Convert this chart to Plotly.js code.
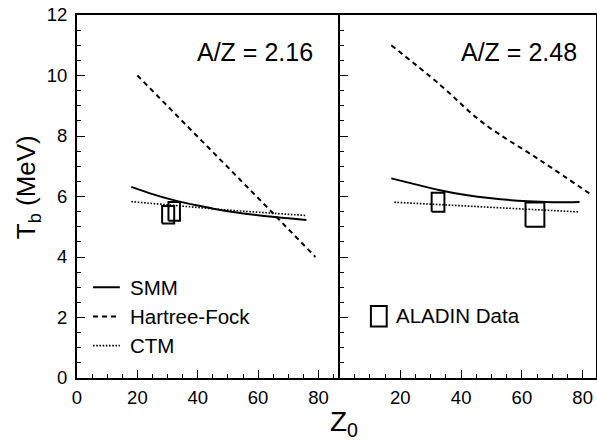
<!DOCTYPE html>
<html><head><meta charset="utf-8">
<script src="https://cdn.plot.ly/plotly-3.0.1.min.js"></script>
<style>html,body{margin:0;padding:0;background:#fff}</style>
</head><body><div id="plot" style="width:597px;height:445px"></div>
<script>
// Left panel: A/Z = 2.16
const smmL_Z = [18, 25, 32, 40, 50, 60, 70, 76];
const smmL_T = [6.32, 6.08, 5.88, 5.70, 5.51, 5.38, 5.28, 5.22];
const hfL_Z = [20, 40, 60, 79];
const hfL_T = [10.0, 7.98, 5.95, 4.0];
const ctmL_Z = [18, 50, 76];
const ctmL_T = [5.83, 5.55, 5.37];
const dataL_Z = [30.2, 32.2];
const dataL_T = [5.40, 5.51];
const dataL_dZ = [2.0, 1.9];
const dataL_dT = [0.29, 0.31];

// Right panel: A/Z = 2.48
const smmR_Z = [17, 25, 33, 41, 50, 62, 70, 79];
const smmR_T = [6.60, 6.40, 6.21, 6.06, 5.94, 5.84, 5.81, 5.82];
const hfR_Z = [17, 33, 47, 66, 83];
const hfR_T = [11.0, 9.7, 8.45, 7.2, 6.05];
const ctmR_Z = [18, 48, 79];
const ctmR_T = [5.81, 5.65, 5.49];
const dataR_Z = [32.4, 64.3];
const dataR_T = [5.81, 5.40];
const dataR_dZ = [2.1, 3.1];
const dataR_dT = [0.31, 0.40];

const panelLabels = ["A/Z = 2.16", "A/Z = 2.48"];
const legendNames = ["SMM", "Hartree-Fock", "CTM", "ALADIN Data"];
const xTicks = [0, 20, 40, 60, 80];
const xTicksR = [20, 40, 60, 80];

const FONT = "Liberation Sans, Arial, Helvetica, sans-serif";
const lineSolid = {color: "#000", width: 2};
const lineDash = {color: "#000", width: 2, dash: "5px,4px"};
const lineDot = {color: "#000", width: 1.6, dash: "1.6px,1.6px"};

function boxes(z, t, dz, dt) {
  const xs = [], ys = [];
  for (let i = 0; i < z.length; i++) {
    xs.push(z[i]-dz[i], z[i]+dz[i], z[i]+dz[i], z[i]-dz[i], z[i]-dz[i], null);
    ys.push(t[i]-dt[i], t[i]-dt[i], t[i]+dt[i], t[i]+dt[i], t[i]-dt[i], null);
  }
  return {x: xs, y: ys};
}
const bL = boxes(dataL_Z, dataL_T, dataL_dZ, dataL_dT);
const bR = boxes(dataR_Z, dataR_T, dataR_dZ, dataR_dT);

const traces = [
  {x: ctmL_Z, y: ctmL_T, mode: "lines", line: lineDot, xaxis: "x", yaxis: "y"},
  {x: hfL_Z, y: hfL_T, mode: "lines", line: lineDash, xaxis: "x", yaxis: "y"},
  {x: smmL_Z, y: smmL_T, mode: "lines", line: Object.assign({shape: "spline"}, lineSolid), xaxis: "x", yaxis: "y"},
  {x: bL.x, y: bL.y, mode: "lines", line: {color: "#000", width: 2}, xaxis: "x", yaxis: "y"},
  {x: ctmR_Z, y: ctmR_T, mode: "lines", line: lineDot, xaxis: "x2", yaxis: "y2"},
  {x: hfR_Z, y: hfR_T, mode: "lines", line: Object.assign({shape: "spline"}, lineDash), xaxis: "x2", yaxis: "y2"},
  {x: smmR_Z, y: smmR_T, mode: "lines", line: Object.assign({shape: "spline"}, lineSolid), xaxis: "x2", yaxis: "y2"},
  {x: bR.x, y: bR.y, mode: "lines", line: {color: "#000", width: 2}, xaxis: "x2", yaxis: "y2"}
];

const xCommon = {
  showline: true, linecolor: "#000", linewidth: 2, mirror: true,
  ticks: "inside", ticklen: 8, tickwidth: 1, tickcolor: "#000",
  minor: {dtick: 5, ticks: "inside", ticklen: 4, tickwidth: 1, tickcolor: "#000"},
  showgrid: false, zeroline: false, ticklabelstandoff: 2,
  tickfont: {family: FONT, size: 18.5, color: "#000"}
};
const yCommon = {
  range: [0, 12], showline: true, linecolor: "#000", linewidth: 2,
  ticks: "inside", ticklen: 8, tickwidth: 1, tickcolor: "#000", dtick: 2,
  minor: {dtick: 0.5, ticks: "inside", ticklen: 4, tickwidth: 1, tickcolor: "#000"},
  showgrid: false, zeroline: false, ticklabelstandoff: 4,
  tickfont: {family: FONT, size: 18.5, color: "#000"}
};
const split = 0.506;

const legY = [3.0, 2.03, 1.07];
const legStyles = [lineSolid, lineDash, lineDot];
const shapes = [];
const annotations = [];
for (let i = 0; i < 3; i++) {
  shapes.push({type: "line", xref: "x", yref: "y", x0: 5.3, x1: 14.2, y0: legY[i], y1: legY[i], line: legStyles[i]});
  annotations.push({xref: "x", yref: "y", x: 17.0, y: legY[i], text: legendNames[i], showarrow: false,
    xanchor: "left", yanchor: "middle", font: {family: FONT, size: 20.5, color: "#000"}});
}
shapes.push({type: "rect", xref: "x2", yref: "y2", x0: 10.3, x1: 15.5, y0: 1.70, y1: 2.38, line: {color: "#000", width: 2}});
annotations.push({xref: "x2", yref: "y2", x: 18.0, y: 2.05, text: legendNames[3], showarrow: false,
  xanchor: "left", yanchor: "middle", font: {family: FONT, size: 20.5, color: "#000"}});
annotations.push({xref: "x", yref: "y", x: 59, y: 10.78, text: panelLabels[0], showarrow: false,
  xanchor: "center", yanchor: "middle", font: {family: FONT, size: 25, color: "#000"}});
annotations.push({xref: "x2", yref: "y2", x: 59, y: 10.78, text: panelLabels[1], showarrow: false,
  xanchor: "center", yanchor: "middle", font: {family: FONT, size: 25, color: "#000"}});
annotations.push({xref: "paper", yref: "paper", x: 0.514, y: -0.125, text: "Z<sub>0</sub>", showarrow: false,
  xanchor: "center", yanchor: "middle", font: {family: FONT, size: 28, color: "#000"}});
annotations.push({xref: "paper", yref: "paper", x: -0.096, y: 0.526, text: "T<sub>b</sub> (MeV)", showarrow: false,
  textangle: -90, xanchor: "center", yanchor: "middle", font: {family: FONT, size: 26, color: "#000"}});

const layout = {
  width: 597, height: 445,
  margin: {l: 77, r: 1, t: 15, b: 67},
  paper_bgcolor: "#fff", plot_bgcolor: "#fff",
  showlegend: false,
  xaxis: Object.assign({}, xCommon, {domain: [0, split], range: [0, 87], tickvals: xTicks, anchor: "y"}),
  xaxis2: Object.assign({}, xCommon, {domain: [split, 1], range: [0, 84.4], tickvals: xTicksR, anchor: "y2"}),
  yaxis: Object.assign({}, yCommon, {anchor: "x", mirror: false}),
  yaxis2: Object.assign({}, yCommon, {anchor: "x2", mirror: true, showticklabels: false}),
  shapes: shapes,
  annotations: annotations
};

Plotly.newPlot("plot", traces, layout, {displayModeBar: false, staticPlot: true});
</script>
</body></html>
